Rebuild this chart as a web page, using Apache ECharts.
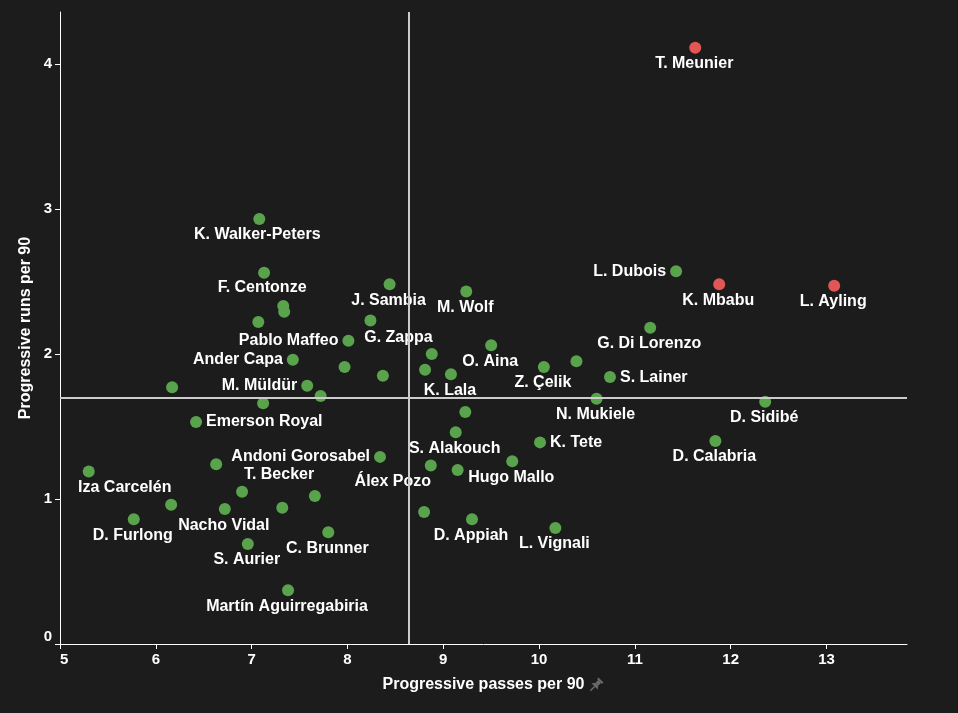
<!DOCTYPE html>
<html>
<head>
<meta charset="utf-8">
<script src="https://cdn.jsdelivr.net/npm/echarts@6/dist/echarts.min.js"></script>
<style>
html,body{margin:0;padding:0;background:#1c1c1c;}
#chart{width:958px;height:713px;}
</style>
</head>
<body>
<div id="chart"></div>
<script>
// ---- data ----
const players = [
  "T. Meunier","L. Dubois","K. Mbabu","L. Ayling","G. Di Lorenzo",
  "K. Walker-Peters","F. Centonze","J. Sambia","M. Wolf","",
  "","","G. Zappa","Pablo Maffeo","",
  "","O. Aina","","","K. Lala",
  "Z. Çelik","","S. Lainer","N. Mukiele","",
  "S. Alakouch","K. Tete","Andoni Gorosabel","Hugo Mallo","Álex Pozo",
  "","Ander Capa","","M. Müldür","",
  "","Emerson Royal","","Iza Carcelén","T. Becker",
  "","","Nacho Vidal","","D. Furlong",
  "C. Brunner","S. Aurier","Martín Aguirregabiria","","D. Appiah",
  "L. Vignali","D. Sidibé","D. Calabria"
];
const progressivePasses = [
  11.63, 11.43, 11.88, 13.08, 11.16,
  7.08, 7.13, 8.44, 9.24, 7.33,
  7.34, 7.07, 8.24, 8.01, 7.97,
  8.37, 9.50, 8.88, 8.81, 9.08,
  10.05, 10.39, 10.74, 10.60, 9.23,
  9.13, 10.01, 8.34, 9.72, 8.87,
  9.15, 7.43, 6.17, 7.58, 7.72,
  7.12, 6.42, 6.63, 5.30, 6.90,
  7.66, 6.16, 6.72, 7.32, 5.77,
  7.80, 6.96, 7.38, 8.80, 9.30,
  10.17, 12.36, 11.84
];
const progressiveRuns = [
  4.11, 2.57, 2.48, 2.47, 2.18,
  2.93, 2.56, 2.48, 2.43, 2.33,
  2.29, 2.22, 2.23, 2.09, 1.91,
  1.85, 2.06, 2.00, 1.89, 1.86,
  1.91, 1.95, 1.84, 1.69, 1.60,
  1.46, 1.39, 1.29, 1.26, 1.23,
  1.20, 1.96, 1.77, 1.78, 1.71,
  1.66, 1.53, 1.24, 1.19, 1.05,
  1.02, 0.96, 0.93, 0.94, 0.86,
  0.77, 0.69, 0.37, 0.91, 0.86,
  0.80, 1.67, 1.40
];
const highlighted = ["T. Meunier","K. Mbabu","L. Ayling"];
const meanPasses = 8.64;
const meanRuns = 1.70;
const xTicks = [5,6,7,8,9,10,11,12,13];
const yTicks = [0,1,2,3,4];

// ---- label styling (placement only) ----
const labelLeft = ["Pablo Maffeo","Ander Capa","M. Müldür","Andoni Gorosabel","L. Dubois"];
const labelRight = ["Emerson Royal","K. Tete","S. Lainer"];
const labelShift = {
  "G. Zappa":[28,17], "Álex Pozo":[-38,16], "Iza Carcelén":[36,16],
  "T. Becker":[37,-17], "K. Walker-Peters":[-2,16], "F. Centonze":[-2,15]
};

const GREEN = '#5aa34d', RED = '#e35656';
const FONT = '"Liberation Sans", Arial, Helvetica, sans-serif';

const seriesData = players.map((n, i) => {
  const item = { name: n, value: [progressivePasses[i], progressiveRuns[i]],
    itemStyle: { color: highlighted.includes(n) ? RED : GREEN, opacity: 1 } };
  if (!n) { item.label = { show: false }; return item; }
  if (labelLeft.includes(n)) item.label = { show: true, position: 'left', distance: 4 };
  else if (labelRight.includes(n)) item.label = { show: true, position: 'right', distance: 4 };
  else item.label = { show: true, position: 'inside', offset: labelShift[n] || [-1,16] };
  return item;
});

const chart = echarts.init(document.getElementById('chart'));
chart.setOption({
  backgroundColor: '#1c1c1c',
  animation: false,
  textStyle: { fontFamily: FONT },
  grid: { left: 60, right: 51, top: 12, bottom: 69 },
  xAxis: {
    type: 'value', min: 5, max: 13.84,
    splitLine: { show: false },
    axisLine: { show: true, lineStyle: { color: '#ffffff', width: 1 } },
    axisTick: { show: true, length: 5, lineStyle: { color: '#ffffff' }, customValues: xTicks },
    axisLabel: { color: '#ffffff', fontWeight: 'bold', fontSize: 15, margin: 8,
      fontFamily: FONT, customValues: xTicks, alignMinLabel: 'left' },
    name: 'Progressive passes per 90', nameLocation: 'middle', nameGap: 33,
    nameMoveOverlap: false,
    nameTextStyle: { color: '#ffffff', fontWeight: 'bold', fontSize: 16, fontFamily: FONT }
  },
  yAxis: {
    type: 'value', min: 0, max: 4.357,
    splitLine: { show: false },
    axisLine: { show: true, lineStyle: { color: '#ffffff', width: 1 } },
    axisTick: { show: true, length: 5, lineStyle: { color: '#ffffff' }, customValues: yTicks },
    axisLabel: { color: '#ffffff', fontWeight: 'bold', fontSize: 15, margin: 8,
      fontFamily: FONT, customValues: yTicks, verticalAlignMinLabel: 'bottom' },
    name: 'Progressive runs per 90', nameLocation: 'middle', nameGap: 26,
    nameMoveOverlap: false,
    nameTextStyle: { color: '#ffffff', fontWeight: 'bold', fontSize: 16, fontFamily: FONT }
  },
  series: [{
    type: 'scatter',
    symbolSize: 12,
    data: seriesData,
    itemStyle: { opacity: 1 },
    label: {
      color: '#ffffff', fontWeight: 'bold', fontSize: 16, fontFamily: FONT, opacity: 1,
      formatter: p => p.name
    },
    emphasis: { disabled: true },
    markLine: {
      silent: true, symbol: 'none', animation: false,
      label: { show: false },
      lineStyle: { color: '#cccccc', width: 2, type: 'solid', opacity: 1 },
      data: [ { xAxis: meanPasses }, { yAxis: meanRuns } ]
    },
    z: 3
  }],
  graphic: [{
    type: 'group',
    x: 596, y: 685, rotation: -Math.PI / 4,
    silent: true,
    children: [
      { type: 'rect', shape: { x: -3.5, y: -7, width: 7, height: 2 }, style: { fill: '#6b6b6b' } },
      { type: 'rect', shape: { x: -2, y: -5, width: 4, height: 4 }, style: { fill: '#6b6b6b' } },
      { type: 'polygon', shape: { points: [[-2,-1],[2,-1],[4.5,2],[-4.5,2]] }, style: { fill: '#6b6b6b' } },
      { type: 'line', shape: { x1: 0, y1: 2, x2: 0, y2: 8 }, style: { stroke: '#6b6b6b', lineWidth: 1.5 } }
    ]
  }]
});
</script>
</body>
</html>
